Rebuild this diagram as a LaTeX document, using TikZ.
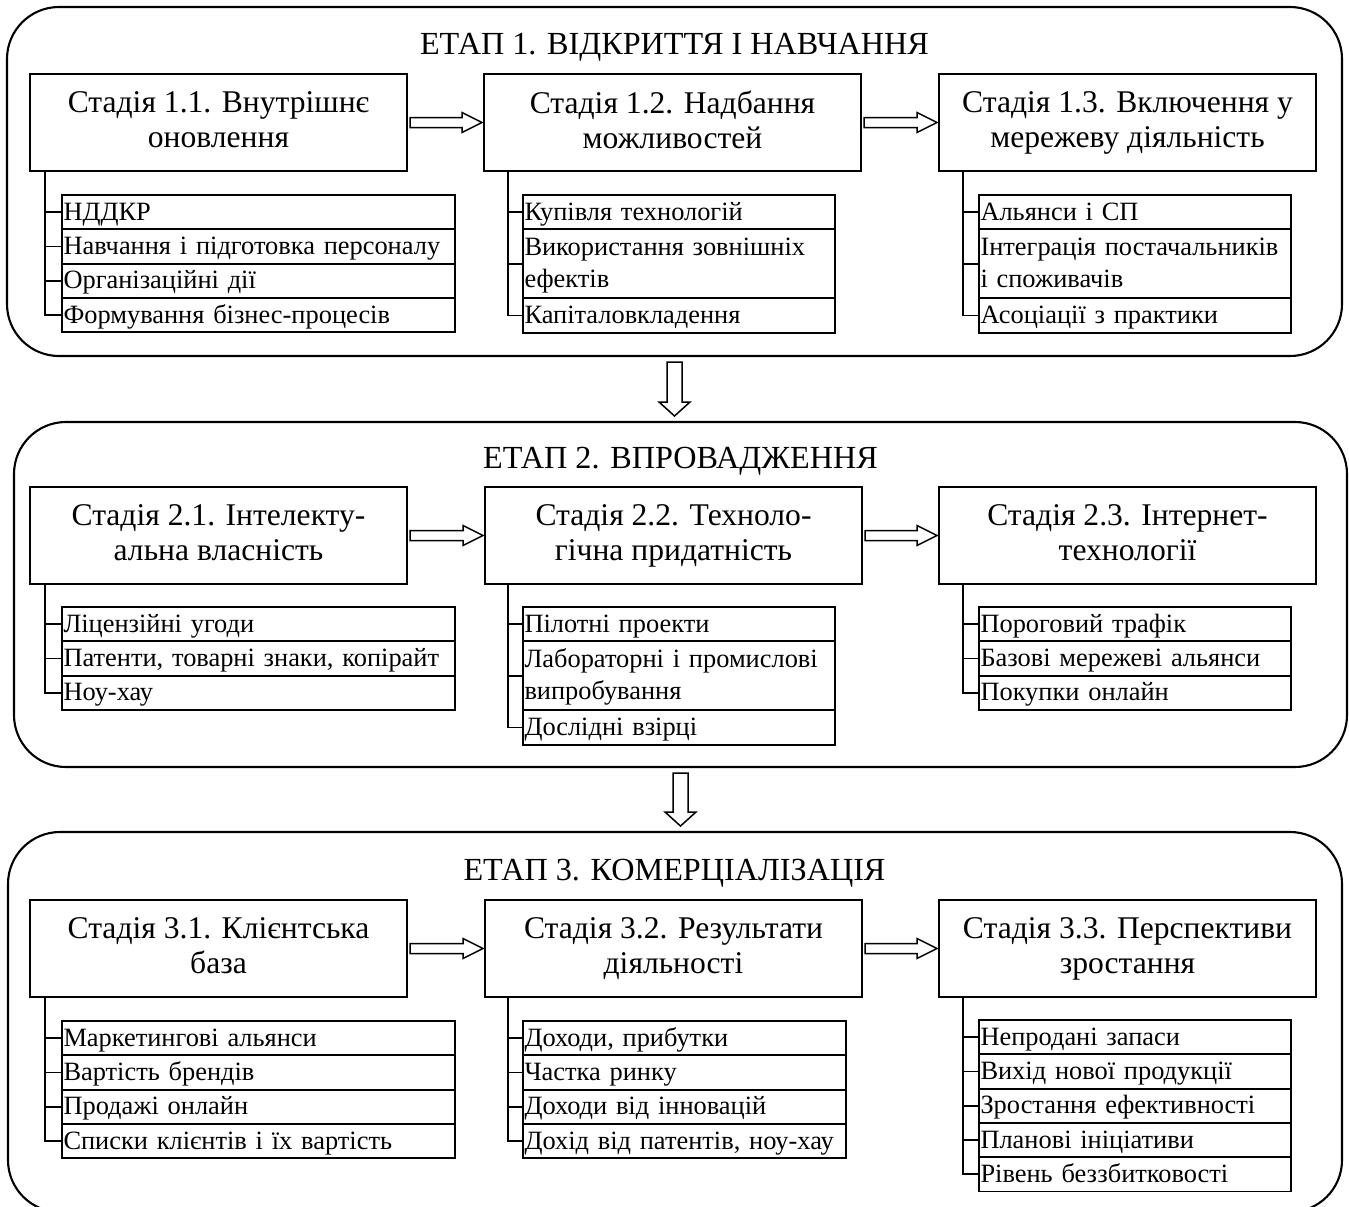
\documentclass[tikz,border=0pt]{standalone}
\usepackage{fontspec}
\setmainfont{Liberation Serif}
\usetikzlibrary{calc}
\begin{document}
\begin{tikzpicture}[x=1pt,y=-1pt, outer sep=0pt,
  panel/.style={draw, line width=2.1pt, rounded corners=52pt, anchor=north west, inner sep=0pt},
  phase/.style={anchor=base, font=\fontsize{32.2}{38}\selectfont},
  stagebox/.style={draw, line width=2pt, inner sep=0pt, anchor=north west, align=center,
    minimum width=377pt, minimum height=97pt, font=\fontsize{31.6}{35}\selectfont,
    execute at begin node={\rule{0pt}{26pt}}, execute at end node={\rule[-6pt]{0pt}{6pt}}},
  itembox/.style={draw, line width=1.9pt, inner xsep=1.5pt, inner ysep=0pt, anchor=north west,
    align=left, font=\fontsize{26.4}{32}\selectfont,
    execute at begin node={\rule{0pt}{22pt}}, execute at end node={\rule[-6pt]{0pt}{6pt}}},
  c1/.style={itembox, text width=390pt},
  c2/.style={itembox, text width=309pt},
  c2w/.style={itembox, text width=320pt},
  c3/.style={itembox, text width=309pt},
  one/.style={minimum height=34.3pt},
  two/.style={minimum height=69pt},
  link/.style={line width=1.9pt},
  fatarrow/.style={draw, line width=1.5pt, fill=white, line join=miter}
]
\useasboundingbox (0,0) rectangle (1349,1207);

% ---------- three phase panels ----------
\node[panel, minimum width=1335pt, minimum height=349pt] (p1) at (7,7) {};
\node[panel, minimum width=1333pt, minimum height=345pt] (p2) at (14,422) {};
\node[panel, minimum width=1334pt, minimum height=380pt] (p3) at (8,832) {};

\node[phase] (h1) at (674.5,55) {ЕТАП 1. ВІДКРИТТЯ І НАВЧАННЯ};
\node[phase] (h2) at (680.5,468) {ЕТАП 2. ВПРОВАДЖЕННЯ};
\node[phase] (h3) at (674.5,880) {ЕТАП 3. КОМЕРЦІАЛІЗАЦІЯ};

% ---------- stage boxes ----------
\node[stagebox] (s11) at (30,74)  {Стадія 1.1. Внутрішнє\\оновлення};
\node[stagebox] (s12) at (484,74) {Стадія 1.2. Надбання\\можливостей};
\node[stagebox] (s13) at (939,74) {Стадія 1.3. Включення у\\мережеву діяльність};

\node[stagebox] (s21) at (30,487)  {Стадія 2.1. Інтелекту-\\альна власність};
\node[stagebox] (s22) at (485,487) {Стадія 2.2. Техноло-\\гічна придатність};
\node[stagebox] (s23) at (939,487) {Стадія 2.3. Інтернет-\\технології};

\node[stagebox] (s31) at (30,900)  {Стадія 3.1. Клієнтська\\база};
\node[stagebox] (s32) at (485,900) {Стадія 3.2. Результати\\діяльності};
\node[stagebox] (s33) at (939,900) {Стадія 3.3. Перспективи\\зростання};

% ---------- item lists ----------
\node[c1,one] (a1) at (62,195) {НДДКР};
\node[c1,one] (a2) at (a1.south west) {Навчання і підготовка персоналу};
\node[c1,one] (a3) at (a2.south west) {Організаційні дії};
\node[c1,one] (a4) at (a3.south west) {Формування бізнес-процесів};

\node[c2,one] (b1) at (523,195) {Купівля технологій};
\node[c2,two] (b2) at (b1.south west) {Використання зовнішніх\\ефектів};
\node[c2,one] (b3) at (b2.south west) {Капіталовкладення};

\node[c3,one] (c1) at (979,195) {Альянси і СП};
\node[c3,two] (c2) at (c1.south west) {Інтеграція постачальників\\і споживачів};
\node[c3,one] (c3) at (c2.south west) {Асоціації з практики};

\node[c1,one] (d1) at (62,607) {Ліцензійні угоди};
\node[c1,one] (d2) at (d1.south west) {Патенти, товарні знаки, копірайт};
\node[c1,one] (d3) at (d2.south west) {Ноу-хау};

\node[c2,one] (e1) at (523,607) {Пілотні проекти};
\node[c2,two] (e2) at (e1.south west) {Лабораторні і промислові\\випробування};
\node[c2,one] (e3) at (e2.south west) {Дослідні взірці};

\node[c3,one] (f1) at (979,607) {Пороговий трафік};
\node[c3,one] (f2) at (f1.south west) {Базові мережеві альянси};
\node[c3,one] (f3) at (f2.south west) {Покупки онлайн};

\node[c1,one] (g1) at (62,1021) {Маркетингові альянси};
\node[c1,one] (g2) at (g1.south west) {Вартість брендів};
\node[c1,one] (g3) at (g2.south west) {Продажі онлайн};
\node[c1,one] (g4) at (g3.south west) {Списки клієнтів і їх вартість};

\node[c2w,one] (k1) at (523,1021) {Доходи, прибутки};
\node[c2w,one] (k2) at (k1.south west) {Частка ринку};
\node[c2w,one] (k3) at (k2.south west) {Доходи від інновацій};
\node[c2w,one] (k4) at (k3.south west) {Дохід від патентів, ноу-хау};

\node[c3,one] (m1) at (979,1020) {Непродані запаси};
\node[c3,one] (m2) at (m1.south west) {Вихід нової продукції};
\node[c3,one] (m3) at (m2.south west) {Зростання ефективності};
\node[c3,one] (m4) at (m3.south west) {Планові ініціативи};
\node[c3,one] (m5) at (m4.south west) {Рівень беззбитковості};

% ---------- trunks from stage boxes to their items ----------
\coordinate (t11) at (45,171);
\coordinate (t12) at (508,171);
\coordinate (t13) at (963,171);
\coordinate (t21) at (45,583);
\coordinate (t22) at (508,583);
\coordinate (t23) at (963,583);
\coordinate (t31) at (45,996);
\coordinate (t32) at (508,996);
\coordinate (t33) at (963,996);

\draw[link] (t11) |- (a4.west);
\foreach \n in {a1,a2,a3} \draw[link] (t11 |- \n.west) -- (\n.west);
\draw[link] (t12) |- (b3.west);
\foreach \n in {b1,b2} \draw[link] (t12 |- \n.west) -- (\n.west);
\draw[link] (t13) |- (c3.west);
\foreach \n in {c1,c2} \draw[link] (t13 |- \n.west) -- (\n.west);

\draw[link] (t21) |- (d3.west);
\foreach \n in {d1,d2} \draw[link] (t21 |- \n.west) -- (\n.west);
\draw[link] (t22) |- (e3.west);
\foreach \n in {e1,e2} \draw[link] (t22 |- \n.west) -- (\n.west);
\draw[link] (t23) |- (f3.west);
\foreach \n in {f1,f2} \draw[link] (t23 |- \n.west) -- (\n.west);

\draw[link] (t31) |- (g4.west);
\foreach \n in {g1,g2,g3} \draw[link] (t31 |- \n.west) -- (\n.west);
\draw[link] (t32) |- (k4.west);
\foreach \n in {k1,k2,k3} \draw[link] (t32 |- \n.west) -- (\n.west);
\draw[link] (t33) |- (m5.west);
\foreach \n in {m1,m2,m3,m4} \draw[link] (t33 |- \n.west) -- (\n.west);

% ---------- hollow arrows between stages ----------
\foreach \u/\v in {s11/s12,s12/s13,s21/s22,s22/s23,s31/s32,s32/s33}{
  \draw[fatarrow] ($(\u.east)+(3,-5)$) -- ($(\v.west)+(-22,-5)$) -- ($(\v.west)+(-22,-10)$)
    -- ($(\v.west)+(-2,0)$) -- ($(\v.west)+(-22,10)$) -- ($(\v.west)+(-22,5)$)
    -- ($(\u.east)+(3,5)$) -- cycle;
}

% ---------- hollow arrows between phases ----------
\foreach \u/\v in {p1/p2,p2/p3}{
  \draw[fatarrow] ($(\u.south)+(-7.5,6)$) -- ($(\u.south |- \v.north)+(-7.5,-20)$)
    -- ($(\u.south |- \v.north)+(-15.5,-20)$) -- ($(\u.south |- \v.north)+(0,-6)$)
    -- ($(\u.south |- \v.north)+(15.5,-20)$) -- ($(\u.south |- \v.north)+(7.5,-20)$)
    -- ($(\u.south)+(7.5,6)$) -- cycle;
}
\end{tikzpicture}
\end{document}
